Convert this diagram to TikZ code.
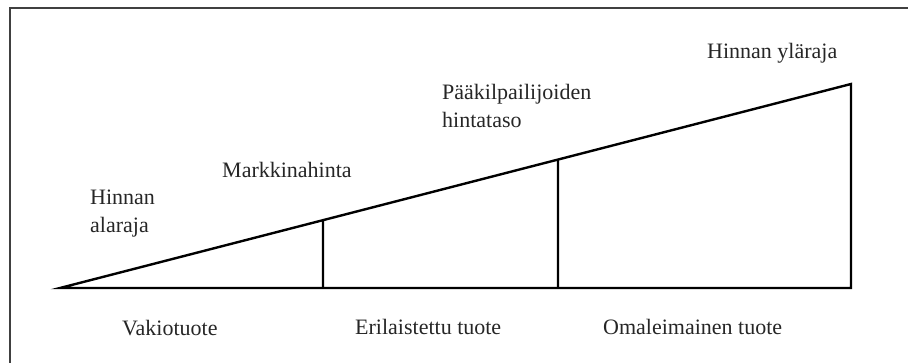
\documentclass[tikz,border=0pt]{standalone}
\usepackage{fontspec}
\setmainfont{LiberationSerif-Regular.ttf}
\usetikzlibrary{positioning,calc}
\colorlet{framegray}{black!75}
\colorlet{textgray}{black!85}

\begin{document}
\begin{tikzpicture}[x=1pt,y=-1pt,
    every node/.style={font=\fontsize{22}{28}\selectfont,text=textgray,inner sep=0pt},
    lbl/.style={anchor=base west,align=left},
    edge/.style={line width=2.4pt,black,line join=miter}]
    \useasboundingbox (0,0) rectangle (908,363);
    \draw[line width=1.6pt,framegray] (10,363)--(10,8)--(908,8);
    % price line and segment borders
    \coordinate (apex) at (60,288);
    \coordinate (rbase) at (851,288);
    \coordinate (rtop) at (851,84);
    \coordinate (mbase) at (323,288);
    \coordinate (mtop) at ($(apex)!0.3325!(rtop)$);
    \coordinate (kbase) at (558,288);
    \coordinate (ktop) at ($(apex)!0.6296!(rtop)$);
    \draw[edge] (apex)--(rtop)--(rbase)--cycle;
    \draw[edge] (mbase)--(mtop);
    \draw[edge] (kbase)--(ktop);
    % labels (base = last line)
    \node[lbl] (alaraja) at (90,233) {Hinnan\\alaraja};
    \node[lbl] (markkina) at (222,178) {Markkinahinta};
    \node[lbl] (paakilp) at (442,128) {Pääkilpailijoiden\\hintataso};
    \node[lbl] (ylaraja) at (707,59) {Hinnan yläraja};
    \node[lbl] (vakio) at (122,336) {Vakiotuote};
    \node[lbl] (erilaist) at (355,335) {Erilaistettu tuote};
    \node[lbl] (omaleim) at (603,335) {Omaleimainen tuote};
\end{tikzpicture}
\end{document}
